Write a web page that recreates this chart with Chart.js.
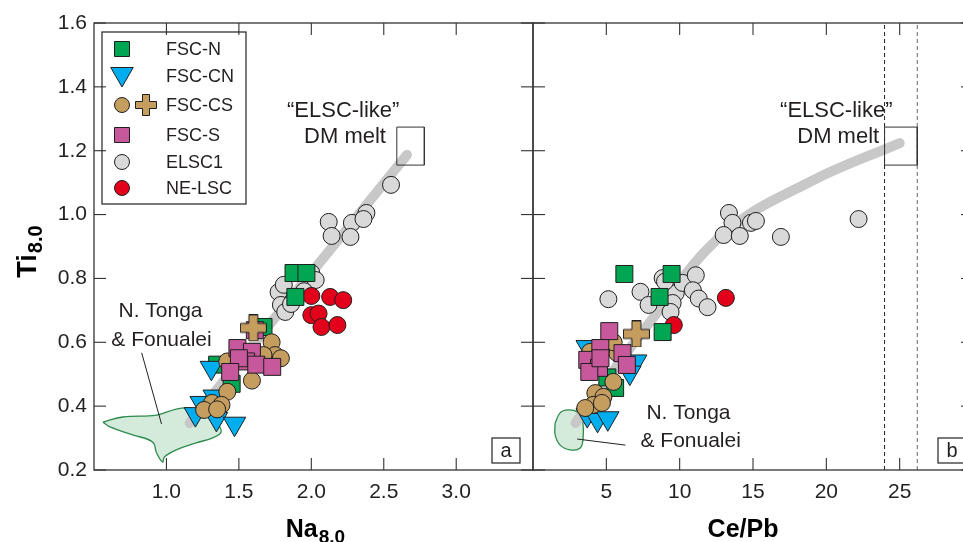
<!DOCTYPE html>
<html><head><meta charset="utf-8">
<script src="https://cdn.jsdelivr.net/npm/chart.js@4.4.1/dist/chart.umd.min.js"></script>
<style>
html,body{margin:0;padding:0;background:#fff;overflow:hidden;width:963px;height:542px;}
#ca{position:absolute;left:0;top:0;width:540px;height:542px;}
#cb{position:absolute;left:520px;top:0;width:463px;height:542px;}
</style></head><body>
<canvas id="ca" width="540" height="542"></canvas>
<canvas id="cb" width="463" height="542"></canvas>
<script>
const FONT = "'Liberation Sans', Arial, Helvetica, sans-serif";

// ---- tick labels ----
const naTicks = [1.0, 1.5, 2.0, 2.5, 3.0];
const cepbTicks = [5, 10, 15, 20, 25];
const tiTicks = [0.2, 0.4, 0.6, 0.8, 1.0, 1.2, 1.4, 1.6];

// ---- legend ----
const seriesNames = ['FSC-N', 'FSC-CN', 'FSC-CS', 'FSC-S', 'ELSC1', 'NE-LSC'];

// ---- panel a: Na8.0 vs Ti8.0 ----
const fscN_Na = [[1.877,0.817],[1.966,0.817],[1.89,0.742],[1.67,0.648],[1.35,0.53],[1.45,0.47]];
const fscCN_Na = [[1.31,0.52],[1.24,0.41],[1.20,0.375],[1.345,0.36],[1.47,0.345],[1.33,0.43]];
const fscCS_Na = [[1.726,0.60],[1.75,0.56],[1.79,0.55],[1.59,0.48],[1.42,0.445],[1.315,0.41],[1.38,0.404],[1.26,0.388],[1.35,0.39],[1.67,0.56],[1.42,0.54]];
const fscCSplus_Na = [[1.60,0.645]];
const fscS_Na = [[1.61,0.638],[1.49,0.582],[1.59,0.57],[1.55,0.54],[1.62,0.53],[1.50,0.55],[1.44,0.507],[1.73,0.523]];
const elsc1_Na = [[2.12,0.977],[2.14,0.933],[2.28,0.974],[2.27,0.93],[2.38,1.005],[2.36,0.986],[2.55,1.093],[1.774,0.757],[1.79,0.717],[1.82,0.695],[2.0,0.817],[2.03,0.795],[1.86,0.72],[1.81,0.78],[1.95,0.76]];
const neLSC_Na = [[2.0,0.745],[2.13,0.742],[2.22,0.732],[2.0,0.685],[2.05,0.69],[2.07,0.648],[2.18,0.654]];
const trend_Na = [[1.16,0.347],[2.66,1.187]];
const tonga_Na = [[0.562,0.35],[0.699,0.366],[0.932,0.372],[1.068,0.391],[1.158,0.394],[1.274,0.379],[1.349,0.347],[1.377,0.319],[1.315,0.30],[1.205,0.285],[1.068,0.263],[0.986,0.241],[0.973,0.225],[0.932,0.253],[0.904,0.288],[0.767,0.31],[0.61,0.335],[0.562,0.35]];
const dmBox_Na = [[2.59,1.274],[2.78,1.274],[2.78,1.155],[2.59,1.155],[2.59,1.274]];
const leader_Na = [[0.829,0.567],[0.966,0.344]];

// ---- panel b: Ce/Pb vs Ti8.0 ----
const fscN_CePb = [[6.23,0.814],[9.45,0.814],[8.63,0.742],[8.84,0.632],[5.6,0.457],[5.07,0.49]];
const fscCN_CePb = [[3.7,0.372],[4.4,0.357],[5.1,0.362],[7.0,0.54],[6.6,0.505],[3.7,0.585]];
const fscCS_CePb = [[5.48,0.476],[4.25,0.441],[4.8,0.429],[4.1,0.404],[4.7,0.41],[3.56,0.394],[5.75,0.566],[5.5,0.60],[3.9,0.57]];
const fscCSplus_CePb = [[7.05,0.626]];
const fscS_CePb = [[5.2,0.635],[4.59,0.582],[6.1,0.566],[6.4,0.529],[3.7,0.545],[4.5,0.52],[3.84,0.507],[4.6,0.55]];
const elsc1_CePb = [[5.14,0.735],[7.33,0.758],[7.88,0.717],[8.84,0.801],[9.73,0.754],[9.52,0.723],[9.38,0.695],[10.2,0.786],[11.1,0.81],[10.9,0.763],[11.3,0.737],[11.9,0.71],[13.36,1.005],[13.6,0.974],[13.0,0.936],[14.1,0.933],[14.86,0.974],[15.2,0.98],[16.9,0.93],[22.2,0.986],[9.0,0.79]];
const neLSC_CePb = [[13.15,0.739],[9.6,0.654]];
const trend_CePb = [[2.9,0.347],[8.0,0.665],[13.0,0.94],[19.0,1.105],[25.0,1.224]];
const tonga_CePb = [[1.51,0.347],[1.85,0.379],[2.4,0.388],[3.01,0.382],[3.36,0.357],[3.42,0.303],[3.22,0.269],[2.53,0.263],[1.85,0.278],[1.51,0.31],[1.51,0.347]];
const dmBox_CePb = [[23.97,1.274],[26.2,1.274],[26.2,1.155],[23.97,1.155],[23.97,1.274]];
const dmLo_CePb = [[23.97,0.2],[23.97,1.6]];
const dmHi_CePb = [[26.2,0.2],[26.2,1.6]];
const leader_CePb = [[3.01,0.297],[6.3,0.278]];

// ---- styles ----
const C = {green:'#00a651', blue:'#00aeef', tan:'#c59d5f', pink:'#c8589c', gray:'#d9d9d9', red:'#e2001a', edge:'#1f1f1f'};

function plusImage(size, arm){
  const c = document.createElement('canvas');
  c.width = size; c.height = size;
  const g = c.getContext('2d');
  const a = (size - arm)/2, b = a + arm, e = size - 0.5, s = 0.5;
  g.beginPath();
  g.moveTo(a,s); g.lineTo(b,s); g.lineTo(b,a); g.lineTo(e,a); g.lineTo(e,b); g.lineTo(b,b);
  g.lineTo(b,e); g.lineTo(a,e); g.lineTo(a,b); g.lineTo(s,b); g.lineTo(s,a); g.lineTo(a,a); g.closePath();
  g.fillStyle = C.tan; g.fill(); g.strokeStyle = C.edge; g.lineWidth = 1; g.stroke();
  return c;
}
const plusBig = plusImage(27, 9);
const plusSmall = plusImage(22, 7);

const pts = arr => arr.map(([x,y]) => ({x, y}));
function marks(data, style, color, radius, order, rot){
  return {type:'scatter', data: pts(data), pointStyle: style, pointRadius: radius, pointHoverRadius: radius,
    pointRotation: rot || 0, backgroundColor: color, borderColor: C.edge, borderWidth: 1, order};
}
function path(data, opt){
  return Object.assign({type:'line', data: pts(data), pointRadius:0, pointHoverRadius:0, fill:false,
    borderColor:'#222', borderWidth:1, tension:0}, opt);
}
function seriesSet(s){
  return [
    marks(s.plus, plusBig, C.tan, 13, 1),
    marks(s.fscS, 'rect', C.pink, 12, 2),
    marks(s.fscCS, 'circle', C.tan, 8.5, 3),
    marks(s.fscCN, 'triangle', C.blue, 13, 4, 180),
    marks(s.fscN, 'rect', C.green, 12, 5),
    marks(s.ne, 'circle', C.red, 8.5, 6),
    marks(s.elsc, 'circle', C.gray, 8.5, 7),
  ];
}

function line(ctx,x1,y1,x2,y2){ctx.beginPath();ctx.moveTo(x1,y1);ctx.lineTo(x2,y2);ctx.stroke();}
function subText(ctx, main, sub, cx, base, mSize, sSize, drop){
  ctx.font = 'bold ' + mSize + 'px ' + FONT;
  const w1 = ctx.measureText(main).width;
  ctx.font = 'bold ' + sSize + 'px ' + FONT;
  const w2 = ctx.measureText(sub).width;
  const x0 = cx - (w1 + w2)/2;
  ctx.textAlign = 'left'; ctx.textBaseline = 'alphabetic';
  ctx.font = 'bold ' + mSize + 'px ' + FONT;
  ctx.fillText(main, x0, base);
  ctx.font = 'bold ' + sSize + 'px ' + FONT;
  ctx.fillText(sub, x0 + w1 + 1, base + drop);
}

const decor = {
  id: 'decor',
  afterDatasetsDraw(chart, args, o){
    const {ctx, chartArea:a, scales:{x, y}} = chart;
    ctx.save();
    ctx.strokeStyle = '#333'; ctx.lineWidth = 1.3;
    ctx.strokeRect(a.left, a.top, a.right - a.left, a.bottom - a.top);
    ctx.lineWidth = 1.1;
    x.ticks.forEach(t => { const p = x.getPixelForValue(t.value); line(ctx,p,a.bottom,p,a.bottom-12); line(ctx,p,a.top,p,a.top+12); });
    y.ticks.forEach(t => { const p = y.getPixelForValue(t.value); line(ctx,a.left,p,a.left+12,p); line(ctx,a.right,p,a.right-12,p); });
    ctx.fillStyle = '#231f20';
    (o.texts || []).forEach(t => {
      ctx.font = t.size + 'px ' + FONT; ctx.textAlign = t.align || 'center'; ctx.textBaseline = 'middle';
      ctx.fillText(t.text, x.getPixelForValue(t.x), y.getPixelForValue(t.y));
    });
    // panel letter
    const bx = a.right - o.letterDx, by = a.bottom - 32;
    ctx.strokeStyle = '#222'; ctx.lineWidth = 1.2;
    ctx.strokeRect(bx, by, 28, 25);
    ctx.font = '20px ' + FONT; ctx.textAlign = 'center'; ctx.textBaseline = 'middle';
    ctx.fillText(o.letter, bx + 14, by + 13);
    // x axis title
    ctx.fillStyle = '#000';
    subText(ctx, o.xTitle[0], o.xTitle[1], o.xTitleX, 537, 25, 19, 6);
    // y axis title
    if (o.yTitle) {
      ctx.save();
      ctx.translate(36, 252); ctx.rotate(-Math.PI/2);
      subText(ctx, o.yTitle[0], o.yTitle[1], 0, 0, 27, 20, 6);
      ctx.restore();
    }
    // legend
    if (o.legend) {
      const L = a.left + 8, T = a.top + 9;
      ctx.strokeStyle = '#222'; ctx.lineWidth = 1.2;
      ctx.strokeRect(L, T, 144, 172);
      const rows = [26, 53, 82, 112, 139, 165];
      const ix = a.left + 28;
      const draw = (style, color, r, yy, rot) => {
        ctx.fillStyle = color; ctx.strokeStyle = C.edge; ctx.lineWidth = 1;
        Chart.helpers.drawPoint(ctx, {pointStyle: style, radius: r, rotation: rot || 0, borderWidth: 1}, ix, yy);
      };
      draw('rect', C.green, 10.6, a.top + rows[0]);
      draw('triangle', C.blue, 13, a.top + rows[1] - 2, 180);
      draw('circle', C.tan, 7.5, a.top + rows[2]);
      ctx.drawImage(plusSmall, a.left + 52 - 11, a.top + rows[2] - 11);
      draw('rect', C.pink, 10.6, a.top + rows[3]);
      draw('circle', C.gray, 7.5, a.top + rows[4]);
      draw('circle', C.red, 7.5, a.top + rows[5]);
      ctx.fillStyle = '#231f20'; ctx.font = '18px ' + FONT; ctx.textAlign = 'left'; ctx.textBaseline = 'middle';
      seriesNames.forEach((n, i) => ctx.fillText(n, a.left + 72, a.top + rows[i] + 1));
    }
    ctx.restore();
  }
};

function yScale(width, showLabels){
  return {type:'linear', min:0.2, max:1.6, position:'left',
    afterBuildTicks: s => { s.ticks = tiTicks.map(v => ({value:v})); },
    afterFit: s => { s.width = width; s.paddingTop = 0; s.paddingBottom = 0; s.paddingLeft = 0; s.paddingRight = 0; },
    grid:{display:false, drawTicks:false}, border:{display:false},
    ticks:{display:showLabels, padding:7, color:'#231f20', font:{family:FONT, size:21},
      callback: v => Number(v).toFixed(1)}};
}
function xScale(min, max, ticks, fmt){
  return {type:'linear', min, max, position:'bottom',
    afterBuildTicks: s => { s.ticks = ticks.map(v => ({value:v})); },
    afterFit: s => { s.height = 72; s.paddingLeft = 0; s.paddingRight = 0; s.paddingTop = 0; s.paddingBottom = 0; },
    grid:{display:false, drawTicks:false}, border:{display:false},
    ticks:{padding:10, color:'#231f20', font:{family:FONT, size:21}, maxRotation:0, autoSkip:false, callback: fmt}};
}
const baseOpts = (pad) => ({responsive:false, animation:false, events:[],
  layout:{padding:pad, autoPadding:false},
  plugins:{legend:{display:false}, tooltip:{enabled:false}}});

// ---- chart a ----
const optsA = baseOpts({top:23, right:7, left:0, bottom:0});
optsA.scales = {x: xScale(0.5, 3.53, naTicks, v => Number(v).toFixed(1)), y: yScale(94, true)};
optsA.plugins.decor = {
  letter:'a', letterDx:41, xTitle:['Na','8.0'], xTitleX:315, yTitle:['Ti','8.0'], legend:true,
  texts:[
    {text:'\u201CELSC-like\u201D', x:2.22, y:1.324, size:22},
    {text:'DM melt', x:2.515, y:1.243, size:22, align:'right'},
    {text:'N. Tonga', x:0.959, y:0.698, size:21},
    {text:'& Fonualei', x:0.966, y:0.607, size:21},
  ]};
new Chart(document.getElementById('ca'), {
  type:'scatter',
  data:{datasets:[
    ...seriesSet({plus:fscCSplus_Na, fscS:fscS_Na, fscCS:fscCS_Na, fscCN:fscCN_Na, fscN:fscN_Na, ne:neLSC_Na, elsc:elsc1_Na}),
    path(leader_Na, {order:8}),
    path(dmBox_Na, {order:8, borderColor:'#333'}),
    path(trend_Na, {order:9, borderColor:'#c8c8c8', borderWidth:10, borderCapStyle:'round'}),
    path(tonga_Na, {order:10, borderColor:'#2e8b4f', borderWidth:1.3, backgroundColor:'rgba(205,230,212,0.85)', fill:'shape', tension:0.4}),
  ]},
  options: optsA,
  plugins:[decor]
});

// ---- chart b ----
const optsB = baseOpts({top:23, right:10, left:0, bottom:0});
optsB.scales = {x: xScale(0, 30, cepbTicks, v => String(v)), y: yScale(13, false)};
optsB.plugins.decor = {
  letter:'b', letterDx:35, xTitle:['Ce/Pb',''], xTitleX:223, yTitle:null, legend:false,
  texts:[
    {text:'\u201CELSC-like\u201D', x:20.68, y:1.324, size:22},
    {text:'DM melt', x:23.6, y:1.243, size:22, align:'right'},
    {text:'N. Tonga', x:10.6, y:0.379, size:21},
    {text:'& Fonualei', x:10.75, y:0.291, size:21},
  ]};
new Chart(document.getElementById('cb'), {
  type:'scatter',
  data:{datasets:[
    ...seriesSet({plus:fscCSplus_CePb, fscS:fscS_CePb, fscCS:fscCS_CePb, fscCN:fscCN_CePb, fscN:fscN_CePb, ne:neLSC_CePb, elsc:elsc1_CePb}),
    path(leader_CePb, {order:8}),
    path(dmBox_CePb, {order:8, borderColor:'#333'}),
    path(dmLo_CePb, {order:8, borderDash:[4,3], borderColor:'#222'}),
    path(dmHi_CePb, {order:8, borderDash:[4,3], borderColor:'#666'}),
    path(trend_CePb, {order:9, borderColor:'#c8c8c8', borderWidth:10, borderCapStyle:'round', tension:0.4}),
    path(tonga_CePb, {order:10, borderColor:'#2e8b4f', borderWidth:1.3, backgroundColor:'rgba(205,230,212,0.85)', fill:'shape', tension:0.4}),
  ]},
  options: optsB,
  plugins:[decor]
});
</script></body></html>
